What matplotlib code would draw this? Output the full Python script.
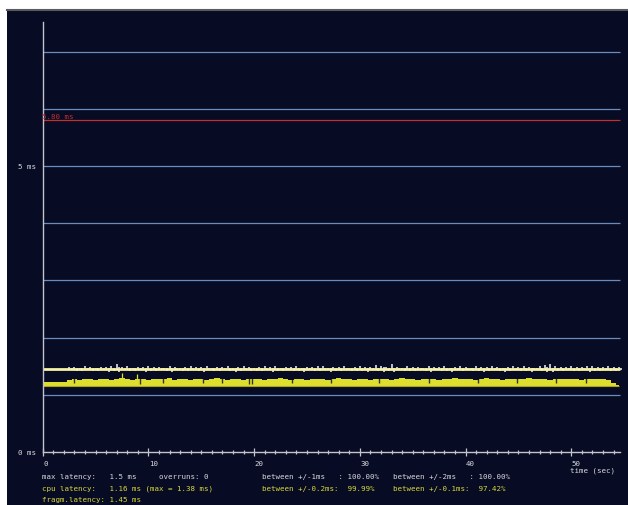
import matplotlib
matplotlib.use("Agg")
import matplotlib.pyplot as plt
import numpy as np

# samples every 0.5 s, values in 1/100 ms
sample_t = np.arange(0, 55, 0.5)
frag_latency = 1.45
cpu_base = 1.15

cpu_top = [
    122, 122, 123, 122, 123, 126, 127, 126, 128, 127,
    126, 127, 128, 126, 127, 129, 127, 126, 128, 127,
    126, 128, 127, 127, 129, 126, 128, 127, 126, 128,
    127, 126, 128, 129, 127, 126, 127, 128, 126, 127,
    128, 127, 126, 128, 127, 129, 127, 126, 128, 127,
    126, 128, 127, 128, 126, 127, 129, 127, 128, 126,
    127, 128, 126, 127, 128, 127, 126, 128, 129, 127,
    128, 126, 127, 128, 127, 126, 128, 127, 129, 128,
    127, 128, 126, 127, 129, 128, 127, 126, 128, 127,
    128, 127, 129, 128, 127, 128, 126, 127, 128, 127,
    128, 127, 126, 128, 127, 128, 127, 125, 121, 117,
]

spike_up = [
    0, 0, 0, 0, 0, 3, 4, 2, 5, 3,
    2, 4, 3, 6, 8, 3, 5, 2, 4, 3,
    5, 3, 4, 2, 6, 3, 2, 4, 5, 3,
    3, 5, 2, 4, 3, 6, 2, 3, 5, 4,
    2, 4, 6, 3, 5, 2, 4, 3, 5, 2,
    4, 3, 5, 6, 2, 4, 3, 5, 2, 4,
    6, 3, 4, 7, 5, 3, 8, 4, 2, 5,
    3, 4, 2, 5, 3, 4, 6, 2, 3, 5,
    4, 2, 5, 3, 4, 6, 3, 2, 4, 5,
    3, 5, 4, 2, 6, 7, 8, 5, 4, 3,
    5, 3, 4, 6, 5, 4, 3, 5, 4, 3,
]

spike_dn = [
    0, 0, 0, 0, 0, 2, 3, 4, 2, 3,
    4, 2, 5, 3, 6, 2, 3, 4, 2, 5,
    3, 4, 2, 3, 5, 2, 4, 3, 2, 4,
    5, 2, 3, 4, 2, 3, 5, 4, 2, 3,
    4, 3, 2, 5, 3, 4, 2, 3, 4, 5,
    2, 4, 3, 2, 5, 3, 4, 2, 3, 4,
    3, 5, 2, 4, 6, 3, 5, 2, 4, 3,
    4, 2, 3, 5, 2, 4, 3, 5, 2, 3,
    2, 4, 3, 5, 3, 2, 4, 5, 3, 2,
    4, 3, 5, 2, 4, 6, 5, 3, 4, 2,
    3, 4, 2, 5, 3, 4, 2, 3, 4, 2,
]

# dark notches in the cpu band and the two tallest cpu peaks
dip_t = [3.0, 9.2, 11.4, 15.2, 17.0, 19.5, 19.8, 23.6, 27.3, 31.8, 36.5, 41.2, 44.9, 48.6, 51.4]
dip_low = [1.21, 1.19, 1.20, 1.21, 1.20, 1.18, 1.19, 1.20, 1.21, 1.20, 1.21, 1.20, 1.21, 1.20, 1.21]
peak_t = [7.5, 8.9]
peak_hi = [1.38, 1.37]

grid_ms = [1, 2, 3, 4, 5, 6, 7]
ytick_ms = [0, 5]
xtick_major = [0, 10, 20, 30, 40, 50]
t_end = 54.6
y_top = 7.52
limit_ms = 5.80

BG = "#070b24"
GRID = "#6a8cbc"
AXIS = "#c4c4cc"
YELLOW = "#dede2e"
TXT_Y = "#d8d83a"
TXT_W = "#d8d8dc"
RED = "#c0302e"
W, H = 628, 506


def px(x, y):
    return x / W, 1 - y / H


fig = plt.figure(figsize=(W / 100, H / 100), dpi=100, facecolor="white")
ax = fig.add_axes([7 / W, 0, 621 / W, 495 / H])
ax.set_facecolor(BG)
ax.set_xlim(-3.38, 55.37)
ax.set_ylim(-0.927, 7.727)
ax.set_xticks([])
ax.set_yticks([])
for side in ["left", "right", "bottom"]:
    ax.spines[side].set_visible(False)
ax.spines["top"].set_color("#5a5a5a")
ax.spines["top"].set_linewidth(1.5)

ax.hlines(grid_ms, 0, t_end, color=GRID, lw=0.9)
ax.hlines(limit_ms, 0, t_end, color=RED, lw=0.9)

# cpu latency band
cpu_top_ms = np.array(cpu_top) / 100
ax.fill_between(sample_t, cpu_base, cpu_top_ms, step="mid", color=YELLOW, lw=0)
ax.vlines(dip_t, dip_low, 1.29, color=BG, lw=1.0, alpha=0.8)
ax.vlines(peak_t, 1.25, peak_hi, color=YELLOW, lw=0.9)
ax.hlines(cpu_base, 0, sample_t[-1], color="#a8a820", lw=0.8)

# fragment latency line with jitter (upward and downward spikes interleaved)
on = np.array(spike_up) > 0
ax.vlines(sample_t[on], frag_latency, frag_latency + np.array(spike_up)[on] / 100,
          color="#e4e4ec", lw=1.4, alpha=0.85)
on = np.array(spike_dn) > 0
ax.vlines(sample_t[on] + 0.25, frag_latency - np.array(spike_dn)[on] / 100,
          frag_latency + np.array(spike_dn)[on] / 200,
          color="#e4e4ec", lw=1.4, alpha=0.85)
ax.hlines(frag_latency, 0, t_end, color="#f6f2a8", lw=2.0)

# axes
ax.plot([0, 0], [0, y_top], color=AXIS, lw=1.0)
ax.plot([0, t_end], [0, 0], color=AXIS, lw=1.0)
minor = [s for s in range(0, 55) if s not in xtick_major]
ax.vlines(minor, -0.035, 0.035, color=AXIS, lw=0.9)
ax.vlines(xtick_major, -0.07, 0.07, color=AXIS, lw=0.9)

mono = dict(family="DejaVu Sans Mono", fontsize=5.4)
for s in xtick_major:
    ax.text(s + 0.05, -0.19, str(s), color=TXT_W, ha="left", va="center", **mono)
ax.text(49.9, -0.31, "time (sec)", color=TXT_W, ha="left", va="center", **mono)
for m in ytick_ms:
    ax.text(-0.6, m, f"{m} ms", color=TXT_W, ha="right", va="center", **mono)
ax.text(-0.05, limit_ms + 0.07, f"{limit_ms:.2f} ms", color=RED, ha="left", va="center", **mono)

rows = [
    (477, TXT_W, ["max latency:   1.5 ms     overruns: 0",
                  "between +/-1ms   : 100.00%",
                  "between +/-2ms   : 100.00%"]),
    (489, TXT_Y, ["cpu latency:   1.16 ms (max = 1.38 ms)",
                  "between +/-0.2ms:  99.99%",
                  "between +/-0.1ms:  97.42%"]),
    (500, TXT_Y, ["fragm.latency: 1.45 ms", "", ""]),
]
for y, col, texts in rows:
    for x, s in zip([42, 262, 393], texts):
        fig.text(*px(x, y), s, color=col, ha="left", va="center", **mono)

fig.savefig("out.png", dpi=100, facecolor=fig.get_facecolor())
